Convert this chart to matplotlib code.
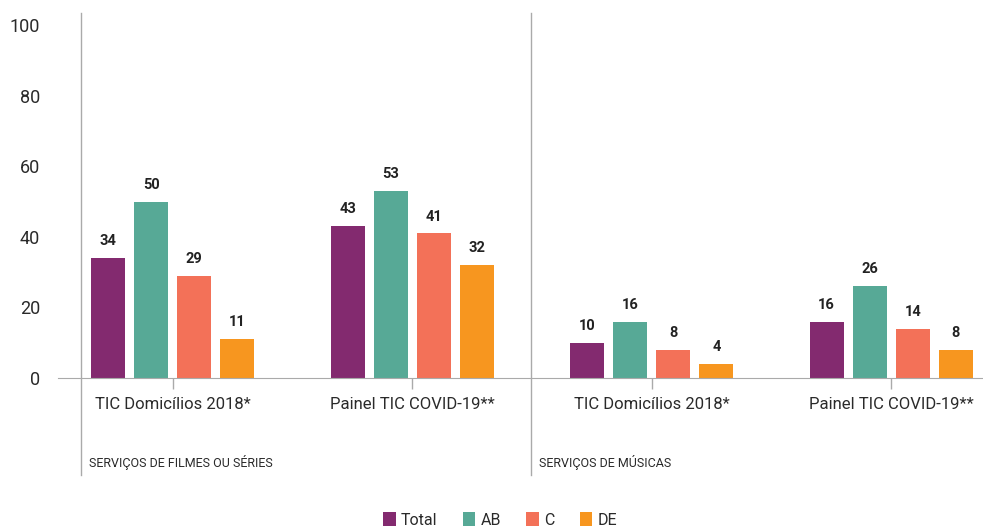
import matplotlib
matplotlib.use('Agg')
import matplotlib.pyplot as plt
import numpy as np

plt.rcParams['font.family'] = ['Roboto', 'DejaVu Sans']

# data
categories = ['TIC Domicílios 2018*', 'Painel TIC COVID-19**',
              'TIC Domicílios 2018*', 'Painel TIC COVID-19**']
groups = ['SERVIÇOS DE FILMES OU SÉRIES', 'SERVIÇOS DE MÚSICAS']
series = ['Total', 'AB', 'C', 'DE']
total = [34, 43, 10, 16]
ab = [50, 53, 16, 26]
c = [29, 41, 8, 14]
de = [11, 32, 4, 8]
colors = ['#832A6F', '#57A996', '#F37158', '#F7961F']

values = [total, ab, c, de]

fig = plt.figure(figsize=(9.83, 5.30), dpi=100)
W, H = 983, 530
ax = fig.add_axes([58 / W, (H - 378) / H, 925 / W, 358 / H])

x = np.arange(len(categories))
offsets = [-0.27, -0.09, 0.09, 0.27]
width = 0.142

for vals, off, col, name in zip(values, offsets, colors, series):
    ax.bar(x + off, vals, width=width, color=col, label=name)
    for xi, v in zip(x + off, vals):
        ax.text(xi, v + 2.8, str(v), ha='center', va='bottom',
                fontsize=10.5, fontweight='bold', color='#222222')

ax.set_xlim(-0.479, 3.383)
ax.set_ylim(0, 101.5)
ax.set_yticks([0, 20, 40, 60, 80, 100])
ax.tick_params(axis='y', length=0, pad=13, labelsize=13, labelcolor='#2a2a2a')
ax.set_xticks(x)
ax.set_xticklabels(categories)
ax.tick_params(axis='x', length=8, width=1, color='#aaaaaa', pad=6,
               labelsize=12, labelcolor='#2a2a2a')

for s in ['top', 'right', 'left']:
    ax.spines[s].set_visible(False)
ax.spines['bottom'].set_color('#aaaaaa')

# group separators and labels
for sep, label in zip([-0.383, 1.496], groups):
    ax.plot([sep, sep], [-27.5, 103.5], color='#aaaaaa', lw=1, clip_on=False)
    ax.text(sep + 0.033, -24, label, ha='left', va='center', fontsize=9,
            color='#2a2a2a')

handles, labels = ax.get_legend_handles_labels()
fig.legend(handles, labels, loc='center', ncol=4,
           bbox_to_anchor=(500 / W, 1 - 520 / H), frameon=False,
           prop={'size': 11.5}, handlelength=0.8,
           handleheight=0.9, handletextpad=0.3, columnspacing=1.6,
           labelcolor='#2a2a2a')

fig.savefig('out.png', dpi=100)
